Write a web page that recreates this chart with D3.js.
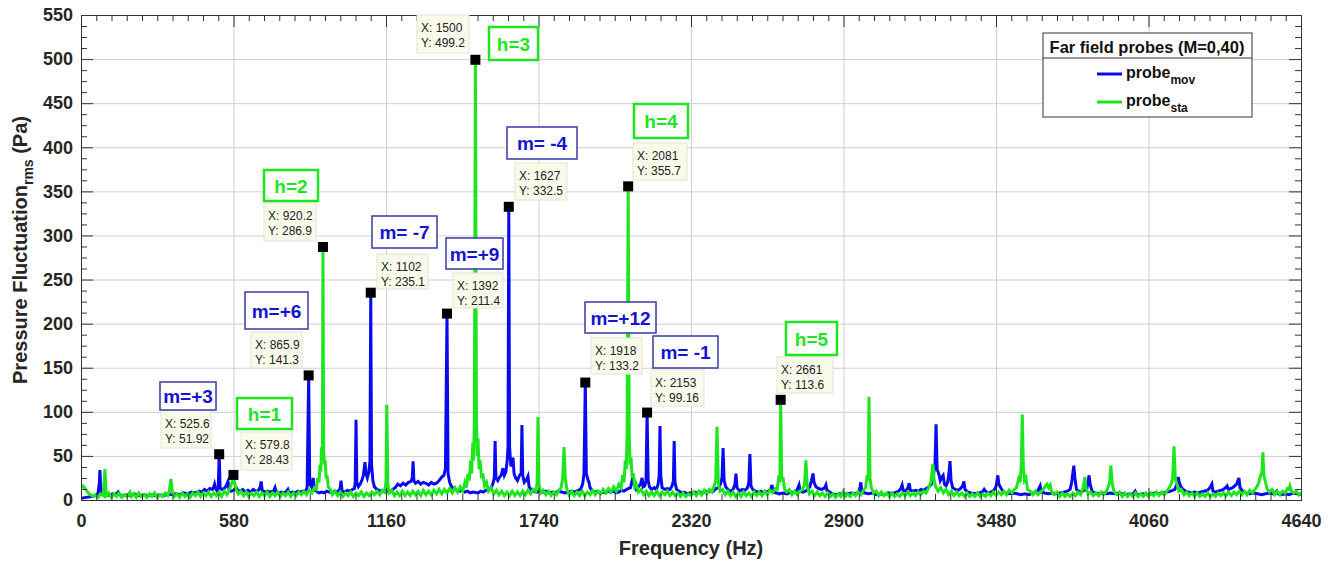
<!DOCTYPE html>
<html lang="en">
<head>
<meta charset="UTF-8">
<title>Far field probes spectrum</title>
<script src="https://cdnjs.cloudflare.com/ajax/libs/d3/7.8.5/d3.min.js"></script>
<style>
  body { margin: 0; background: #fff; }
  svg text { font-family: "Liberation Sans", Arial, Helvetica, sans-serif; }
</style>
</head>
<body>
<div id="chart"></div>
<script>
// ---- data ----
var xTicks = [0, 580, 1160, 1740, 2320, 2900, 3480, 4060, 4640];
var yTicks = [0, 50, 100, 150, 200, 250, 300, 350, 400, 450, 500, 550];

// probe_mov (blue), rows of [Hz, Pa]
var movSpectrum = [[0,2],[20,3],[40,4],[55,5],[65,8],[70,20],[72,34],[74,20],[78,7],[90,5],[100,6],[110,5],[120,7],[130,6],[138,8],[141,9],[146,6],[160,5],[175,6],[190,5],[200,7],[210,6],[225,5],[240,6],[255,5],[270,6],[285,5],[300,6],[315,5],[330,7],[345,6],[360,7],[375,6],[390,8],[405,7],[420,9],[435,8],[450,10],[460,9],[470,12],[480,10],[490,13],[500,12],[505,15],[508,18],[512,13],[518,10],[522,14],[525.6,51.92],[529,14],[535,12],[545,13],[552,16],[559,21],[563,12],[570,10],[580,11],[590,14],[596,11],[605,10],[615,12],[625,9],[635,11],[645,9],[655,12],[665,10],[675,11],[682,15],[685,21],[689,11],[700,9],[710,10],[720,9],[732,10],[738,14],[742,9],[752,8],[762,9],[772,8],[782,10],[787,12],[792,8],[805,9],[815,8],[825,10],[835,9],[845,10],[855,11],[860,14],[865.9,141.3],[870,18],[876,15],[880,20],[883,25],[887,12],[895,10],[905,8],[915,9],[925,8],[935,10],[945,9],[955,8],[965,10],[975,9],[985,12],[989,22],[993,10],[1003,9],[1013,11],[1023,10],[1033,12],[1040,13],[1043,20],[1046,91],[1049,20],[1055,15],[1062,18],[1068,22],[1074,28],[1080,43],[1084,30],[1089,25],[1095,32],[1099,45],[1102,235.1],[1105,40],[1110,22],[1116,15],[1125,12],[1135,11],[1145,10],[1155,9],[1165,10],[1175,9],[1185,12],[1195,14],[1205,18],[1215,16],[1225,19],[1235,17],[1245,20],[1255,21],[1260,25],[1263,44],[1266,22],[1272,19],[1282,21],[1292,18],[1302,20],[1312,19],[1322,17],[1332,20],[1342,18],[1352,19],[1362,22],[1372,26],[1380,28],[1386,35],[1392,211.4],[1396,30],[1402,20],[1410,15],[1420,12],[1430,11],[1440,10],[1450,11],[1460,9],[1470,10],[1480,8],[1490,9],[1510,8],[1520,10],[1530,9],[1540,11],[1550,12],[1560,14],[1566,18],[1572,25],[1575,67],[1578,25],[1585,22],[1592,26],[1598,28],[1602,33],[1605,36],[1610,28],[1616,32],[1621,45],[1624,60],[1627,332.5],[1630,60],[1635,38],[1640,42],[1643,48],[1647,30],[1653,25],[1660,22],[1668,28],[1674,30],[1677,85],[1680,28],[1686,20],[1692,22],[1697,25],[1700,27],[1704,15],[1712,12],[1722,10],[1732,9],[1745,10],[1755,9],[1768,10],[1780,8],[1792,9],[1805,8],[1815,10],[1828,9],[1840,8],[1852,9],[1865,10],[1878,9],[1890,11],[1900,12],[1908,18],[1913,30],[1918,133.2],[1922,30],[1927,24],[1932,20],[1936,14],[1945,10],[1955,9],[1965,10],[1975,8],[1985,9],[1995,8],[2005,10],[2015,9],[2025,10],[2035,8],[2045,9],[2055,11],[2065,10],[2075,12],[2090,14],[2096,22],[2100,30],[2104,18],[2112,12],[2120,15],[2128,18],[2134,25],[2138,15],[2144,16],[2149,22],[2153,99.16],[2157,22],[2162,15],[2170,12],[2180,14],[2188,12],[2195,18],[2199,28],[2202,84],[2205,28],[2210,14],[2220,12],[2230,13],[2240,12],[2248,16],[2253,22],[2256,67],[2259,20],[2265,12],[2275,10],[2285,8],[2295,9],[2305,7],[2315,8],[2325,7],[2335,9],[2345,8],[2355,9],[2365,8],[2375,10],[2385,9],[2395,11],[2405,10],[2415,13],[2425,14],[2432,18],[2438,25],[2442,59],[2446,22],[2452,15],[2460,12],[2470,10],[2480,12],[2487,18],[2491,30],[2495,14],[2505,10],[2515,12],[2525,11],[2535,14],[2540,20],[2544,52],[2548,16],[2555,12],[2565,10],[2575,9],[2585,10],[2595,8],[2605,9],[2615,10],[2624,13],[2628,17],[2632,9],[2645,8],[2655,7],[2670,8],[2685,7],[2700,9],[2710,8],[2720,10],[2727,14],[2731,17],[2735,10],[2745,9],[2755,10],[2765,12],[2772,15],[2778,22],[2784,30],[2788,20],[2795,15],[2805,13],[2815,12],[2825,13],[2830,15],[2833,17],[2837,11],[2847,9],[2857,7],[2870,6],[2885,7],[2900,6],[2915,7],[2930,8],[2945,7],[2958,9],[2963,15],[2966,20],[2970,9],[2982,8],[2995,7],[3010,8],[3025,6],[3040,7],[3055,6],[3070,8],[3085,7],[3100,9],[3110,10],[3118,13],[3123,17],[3127,11],[3137,10],[3145,14],[3150,19],[3154,11],[3165,10],[3175,11],[3185,10],[3195,12],[3205,11],[3215,13],[3225,15],[3235,18],[3242,28],[3248,40],[3252,86],[3256,35],[3262,30],[3268,22],[3274,26],[3279,28],[3284,18],[3290,16],[3296,20],[3301,30],[3305,44],[3309,22],[3315,14],[3325,12],[3335,11],[3345,13],[3353,16],[3358,21],[3362,12],[3372,9],[3385,8],[3400,7],[3415,8],[3428,9],[3435,12],[3440,10],[3450,8],[3462,9],[3472,11],[3480,15],[3484,22],[3487,28],[3491,18],[3498,14],[3506,10],[3516,8],[3530,7],[3545,8],[3560,7],[3575,6],[3590,7],[3605,6],[3620,8],[3635,9],[3643,13],[3648,16],[3652,9],[3665,8],[3680,7],[3695,8],[3710,7],[3725,8],[3740,9],[3752,10],[3762,12],[3768,20],[3772,30],[3776,39],[3780,25],[3786,12],[3795,10],[3805,9],[3815,11],[3825,12],[3830,20],[3834,28],[3838,18],[3845,10],[3855,8],[3870,7],[3885,8],[3900,7],[3915,8],[3930,7],[3945,8],[3960,7],[3975,6],[3990,7],[4000,6],[4006,9],[4009,10],[4013,7],[4025,6],[4040,7],[4055,6],[4070,7],[4085,8],[4100,7],[4115,8],[4130,9],[4145,10],[4160,12],[4168,18],[4173,26],[4177,20],[4183,15],[4192,12],[4202,10],[4212,9],[4222,8],[4235,9],[4248,8],[4260,9],[4272,10],[4284,11],[4294,14],[4301,18],[4305,10],[4315,9],[4325,10],[4335,11],[4345,12],[4353,14],[4359,16],[4364,12],[4372,13],[4380,14],[4388,16],[4395,18],[4400,22],[4404,25],[4408,14],[4418,10],[4430,8],[4445,7],[4460,8],[4475,7],[4490,6],[4505,7],[4520,8],[4535,7],[4545,9],[4548,10],[4552,7],[4565,6],[4580,7],[4595,6],[4610,8],[4625,7],[4640,6]];

// probe_sta (green), rows of [Hz, Pa]
var staSpectrum = [[0,14],[8,16],[16,13],[25,9],[35,6],[45,4],[55,6],[65,3],[75,7],[85,5],[91,35],[96,5],[105,8],[115,3],[125,7],[135,4],[145,8],[155,3],[165,6],[175,4],[186,9],[192,4],[200,7],[210,3],[220,8],[230,4],[240,6],[250,3],[260,7],[270,4],[280,8],[290,3],[300,6],[310,4],[320,8],[330,5],[336,10],[342,24],[348,8],[355,4],[365,7],[375,3],[385,8],[395,4],[405,7],[415,3],[425,8],[435,5],[445,9],[455,4],[465,8],[475,5],[485,9],[495,4],[505,8],[515,5],[525,9],[535,4],[545,10],[555,6],[565,12],[572,18],[576,22],[579.8,28.43],[584,20],[590,12],[598,7],[608,10],[618,5],[628,9],[638,4],[648,8],[658,5],[668,9],[678,4],[688,8],[698,5],[708,9],[718,4],[728,8],[738,5],[748,9],[758,4],[768,8],[778,5],[788,9],[798,4],[808,8],[818,5],[828,9],[838,6],[848,10],[858,6],[868,11],[878,8],[888,14],[895,12],[900,25],[905,20],[909,40],[912,32],[915,60],[918,45],[920.2,286.9],[923,55],[926,40],[929,45],[932,25],[936,28],[940,15],[948,12],[956,6],[966,10],[976,5],[986,9],[996,4],[1006,8],[1016,5],[1026,9],[1036,4],[1046,8],[1056,5],[1066,9],[1076,4],[1086,8],[1096,5],[1106,9],[1116,6],[1126,10],[1136,6],[1146,11],[1155,9],[1160,20],[1163,108],[1167,18],[1172,8],[1182,11],[1192,5],[1202,9],[1212,5],[1222,10],[1232,5],[1242,9],[1252,5],[1262,10],[1272,6],[1282,10],[1292,5],[1302,11],[1312,6],[1322,10],[1332,6],[1342,11],[1352,7],[1362,12],[1372,7],[1382,12],[1392,8],[1402,13],[1412,8],[1422,14],[1432,9],[1442,15],[1452,10],[1460,20],[1466,14],[1472,30],[1477,22],[1482,45],[1486,30],[1490,65],[1493,45],[1496,90],[1500,499.2],[1504,90],[1507,50],[1510,70],[1514,35],[1518,45],[1523,25],[1528,30],[1535,16],[1542,20],[1550,10],[1560,14],[1570,7],[1580,11],[1590,6],[1600,10],[1610,5],[1620,9],[1630,5],[1640,10],[1650,5],[1660,9],[1670,5],[1680,10],[1690,6],[1700,11],[1710,7],[1720,12],[1730,10],[1735,20],[1738,94],[1742,18],[1748,8],[1758,11],[1768,6],[1778,10],[1788,5],[1798,9],[1808,6],[1818,11],[1826,14],[1832,25],[1837,60],[1842,24],[1848,12],[1856,6],[1866,10],[1876,5],[1886,9],[1896,5],[1906,10],[1916,5],[1926,9],[1936,6],[1946,11],[1956,6],[1966,10],[1976,7],[1986,12],[1996,8],[2006,13],[2016,9],[2026,15],[2036,10],[2046,18],[2054,14],[2060,28],[2065,20],[2070,45],[2074,35],[2077,75],[2081,355.7],[2085,75],[2088,40],[2092,48],[2096,25],[2101,30],[2106,15],[2112,18],[2120,9],[2130,12],[2140,6],[2150,10],[2160,5],[2170,9],[2180,5],[2190,10],[2200,5],[2210,9],[2220,6],[2230,10],[2240,5],[2250,9],[2260,5],[2270,8],[2280,4],[2290,8],[2300,4],[2310,7],[2320,5],[2330,9],[2340,5],[2350,10],[2360,6],[2370,11],[2380,7],[2390,12],[2400,9],[2408,16],[2414,22],[2419,83],[2424,20],[2430,10],[2440,12],[2450,6],[2460,10],[2470,5],[2480,9],[2490,4],[2500,8],[2510,4],[2520,9],[2530,5],[2540,8],[2550,4],[2560,9],[2570,5],[2580,9],[2590,5],[2600,10],[2610,6],[2620,11],[2630,8],[2640,13],[2648,12],[2654,28],[2658,20],[2661,113.6],[2665,22],[2670,26],[2676,12],[2684,9],[2694,12],[2704,6],[2714,10],[2724,6],[2734,10],[2744,12],[2752,18],[2757,45],[2762,16],[2770,7],[2780,10],[2790,5],[2800,9],[2810,5],[2820,8],[2830,4],[2840,8],[2850,4],[2860,7],[2870,3],[2880,7],[2890,4],[2898,9],[2906,4],[2916,7],[2926,4],[2936,8],[2946,5],[2956,9],[2966,6],[2976,11],[2984,14],[2990,28],[2994,22],[2997,117],[3001,24],[3006,14],[3014,8],[3024,10],[3034,5],[3044,9],[3054,5],[3064,8],[3074,4],[3084,8],[3094,4],[3104,7],[3114,4],[3124,8],[3134,5],[3144,9],[3154,5],[3164,8],[3174,5],[3184,9],[3194,6],[3204,10],[3214,8],[3224,14],[3232,20],[3236,30],[3240,41],[3244,24],[3250,15],[3260,10],[3270,14],[3280,8],[3290,12],[3300,6],[3310,10],[3320,5],[3330,9],[3340,5],[3350,8],[3360,4],[3370,8],[3380,4],[3390,7],[3400,4],[3410,8],[3420,4],[3430,7],[3440,4],[3450,8],[3460,5],[3470,9],[3480,5],[3490,9],[3500,6],[3510,10],[3520,6],[3530,11],[3540,8],[3550,12],[3558,14],[3566,24],[3572,20],[3576,40],[3580,97],[3584,38],[3588,22],[3594,25],[3600,12],[3610,10],[3620,6],[3630,10],[3640,6],[3650,9],[3660,12],[3668,16],[3674,18],[3680,14],[3686,17],[3692,9],[3702,6],[3712,9],[3722,4],[3732,8],[3742,4],[3752,7],[3762,4],[3772,8],[3782,5],[3792,9],[3802,6],[3810,12],[3815,20],[3818,26],[3822,14],[3830,7],[3840,9],[3850,5],[3860,8],[3870,5],[3880,9],[3890,6],[3900,10],[3906,14],[3912,20],[3917,39],[3922,18],[3930,9],[3940,6],[3950,9],[3960,4],[3970,8],[3980,4],[3990,7],[4000,4],[4010,8],[4020,4],[4030,7],[4040,4],[4050,8],[4060,4],[4070,8],[4080,5],[4090,9],[4100,5],[4110,9],[4120,6],[4130,10],[4138,14],[4146,18],[4152,25],[4157,61],[4162,24],[4168,18],[4175,10],[4185,12],[4195,6],[4205,9],[4215,5],[4225,8],[4235,4],[4245,8],[4255,4],[4265,7],[4275,4],[4285,8],[4295,4],[4305,7],[4315,4],[4325,8],[4335,5],[4345,8],[4355,5],[4365,9],[4375,5],[4385,9],[4395,6],[4405,10],[4415,6],[4425,10],[4435,6],[4445,11],[4455,8],[4465,12],[4472,15],[4480,20],[4486,28],[4491,30],[4495,54],[4499,28],[4505,20],[4512,12],[4520,9],[4530,12],[4540,6],[4550,10],[4560,6],[4570,10],[4580,8],[4588,13],[4594,12],[4598,16],[4604,10],[4612,8],[4622,10],[4632,6],[4640,8]];

// data tips
var tipSeries = ["mov","sta","sta","mov","mov","mov","sta","mov","sta","mov","mov","sta"];
var tipHz   = [525.6, 579.8, 920.2, 865.9, 1102, 1392, 1500, 1627, 2081, 1918, 2153, 2661];
var tipPa   = [51.92, 28.43, 286.9, 141.3, 235.1, 211.4, 499.2, 332.5, 355.7, 133.2, 99.16, 113.6];
var tipXText = ["525.6","579.8","920.2","865.9","1102","1392","1500","1627","2081","1918","2153","2661"];
var tipYText = ["51.92","28.43","286.9","141.3","235.1","211.4","499.2","332.5","355.7","133.2","99.16","113.6"];
var tipName = ["m=+3","h=1","h=2","m=+6","m= -7","m=+9","h=3","m= -4","h=4","m=+12","m= -1","h=5"];

// layout of the annotation boxes (left, top, right, bottom)
var nameBox = [[160,382,216,410],[237,398,292,429],[264,170,318,201],[245,292,308,329],[372,216,437,248],[446,238,503,269],[489,27,538,60],[507,127,577,159],[634,104,688,138],[585,302,656,333],[653,336,718,368],[786,322,837,355]];
var tipBox = [[161,411,211,448],[241,432,292,470],[264,203,316,241],[251,332,302,368],[377,254,428,289],[453,273,503,308],[417,15,469,53],[515,163,567,200],[633,143,687,180],[591,338,642,374],[651,370,704,406],[777,357,833,393]];

var W = 1335, H = 561;
var margin = {left: 81, right: 1301, top: 15, bottom: 500};
var blue = "#0a0af0", green = "#1ee61e";

var svg = d3.select("#chart").append("svg")
  .attr("width", W).attr("height", H);

var x = d3.scaleLinear().domain([0, 4640]).range([margin.left, margin.right]);
var y = d3.scaleLinear().domain([0, 550]).range([margin.bottom, margin.top]);
var pw = margin.right - margin.left, ph = margin.bottom - margin.top;

var xMinor = d3.range(0, 4641, 58).filter(function(d) { return d % 580 !== 0; });
var yMinor = d3.range(0, 551, 12.5).filter(function(d) { return d % 50 !== 0; });

// grid
var grid = svg.append("g").attr("class", "grid");
grid.append("g").attr("transform", "translate(0," + margin.bottom + ")")
  .call(d3.axisBottom(x).tickValues(xTicks).tickSize(-ph).tickFormat(""));
grid.append("g").attr("transform", "translate(" + margin.left + ",0)")
  .call(d3.axisLeft(y).tickValues(yTicks).tickSize(-pw).tickFormat(""));
grid.selectAll("line").attr("stroke", "#cfcfcf").attr("stroke-width", 1);
grid.selectAll(".domain").remove();

// lines
svg.append("clipPath").attr("id", "clip").append("rect")
  .attr("x", margin.left).attr("y", margin.top).attr("width", pw).attr("height", ph);

var line = d3.line().x(function(d) { return x(d[0]); }).y(function(d) { return y(d[1]); });

var plot = svg.append("g").attr("clip-path", "url(#clip)");
plot.append("path").datum(movSpectrum).attr("d", line)
  .attr("fill", "none").attr("stroke", blue).attr("stroke-width", 3).attr("stroke-linejoin", "miter");
plot.append("path").datum(staSpectrum).attr("d", line)
  .attr("fill", "none").attr("stroke", green).attr("stroke-width", 3).attr("stroke-linejoin", "miter");

// axes (box with inward ticks)
function styleAxis(g) {
  g.selectAll("line").attr("stroke", "#333");
  g.selectAll(".domain").attr("stroke", "#333");
}
var fmt = d3.format("d");
var ax = svg.append("g");
ax.append("g").attr("transform", "translate(0," + margin.bottom + ")")
  .call(d3.axisBottom(x).tickValues(xTicks).tickFormat(fmt).tickSize(-12).tickPadding(14).tickSizeOuter(0))
  .call(styleAxis)
  .selectAll("text").attr("font-size", 18).attr("font-weight", "bold").attr("fill", "#262626");
ax.append("g").attr("transform", "translate(0," + margin.bottom + ")")
  .call(d3.axisBottom(x).tickValues(xMinor).tickSize(-6).tickFormat("").tickSizeOuter(0)).call(styleAxis);
ax.append("g").attr("transform", "translate(0," + margin.top + ")")
  .call(d3.axisTop(x).tickValues(xTicks).tickSize(-12).tickFormat("").tickSizeOuter(0)).call(styleAxis);
ax.append("g").attr("transform", "translate(0," + margin.top + ")")
  .call(d3.axisTop(x).tickValues(xMinor).tickSize(-6).tickFormat("").tickSizeOuter(0)).call(styleAxis);
ax.append("g").attr("transform", "translate(" + margin.left + ",0)")
  .call(d3.axisLeft(y).tickValues(yTicks).tickFormat(fmt).tickSize(-12).tickPadding(8).tickSizeOuter(0))
  .call(styleAxis)
  .selectAll("text").attr("font-size", 18).attr("font-weight", "bold").attr("fill", "#262626");
ax.append("g").attr("transform", "translate(" + margin.left + ",0)")
  .call(d3.axisLeft(y).tickValues(yMinor).tickSize(-6).tickFormat("").tickSizeOuter(0)).call(styleAxis);
ax.append("g").attr("transform", "translate(" + margin.right + ",0)")
  .call(d3.axisRight(y).tickValues(yTicks).tickSize(-12).tickFormat("").tickSizeOuter(0)).call(styleAxis);
ax.append("g").attr("transform", "translate(" + margin.right + ",0)")
  .call(d3.axisRight(y).tickValues(yMinor).tickSize(-6).tickFormat("").tickSizeOuter(0)).call(styleAxis);

// axis titles
svg.append("text").attr("x", (margin.left + margin.right) / 2).attr("y", 555)
  .attr("text-anchor", "middle").attr("font-size", 20).attr("font-weight", "bold").attr("fill", "#262626")
  .text("Frequency (Hz)");
var yt = svg.append("text").attr("transform", "translate(27,250) rotate(-90)")
  .attr("text-anchor", "middle").attr("font-size", 20).attr("font-weight", "bold").attr("fill", "#262626");
yt.append("tspan").text("Pressure Fluctuation");
yt.append("tspan").attr("font-size", 14).attr("dy", 6).text("rms");
yt.append("tspan").attr("dy", -6).text(" (Pa)");

// annotations
var ann = svg.append("g");
tipHz.forEach(function(f, i) {
  var isMov = tipSeries[i] === "mov";
  var nb = nameBox[i], tb = tipBox[i];
  // marker
  ann.append("rect").attr("x", x(f) - 5).attr("y", y(tipPa[i]) - 5)
    .attr("width", 10).attr("height", 10).attr("fill", "#000");
  // data tip
  ann.append("rect").attr("x", tb[0]).attr("y", tb[1])
    .attr("width", tb[2] - tb[0]).attr("height", tb[3] - tb[1])
    .attr("fill", "#fafaeb").attr("stroke", "#e4e4d2").attr("stroke-width", 1);
  ann.append("text").attr("x", tb[0] + 4).attr("y", tb[1] + 17)
    .attr("font-size", 12).attr("fill", "#222").text("X: " + tipXText[i]);
  ann.append("text").attr("x", tb[0] + 4).attr("y", tb[1] + 32)
    .attr("font-size", 12).attr("fill", "#222").text("Y: " + tipYText[i]);
  // name box
  ann.append("rect").attr("x", nb[0]).attr("y", nb[1])
    .attr("width", nb[2] - nb[0]).attr("height", nb[3] - nb[1])
    .attr("fill", "#fff")
    .attr("stroke", isMov ? "#3a3aa8" : green).attr("stroke-width", isMov ? 1.5 : 2.5);
  ann.append("text").attr("x", (nb[0] + nb[2]) / 2).attr("y", (nb[1] + nb[3]) / 2 + 7)
    .attr("text-anchor", "middle").attr("font-size", 19).attr("font-weight", "bold")
    .attr("fill", isMov ? "#1414d2" : green).text(tipName[i]);
});

// legend
var lg = svg.append("g");
lg.append("rect").attr("x", 1043).attr("y", 33).attr("width", 209).attr("height", 84)
  .attr("fill", "#fff").attr("stroke", "#333").attr("stroke-width", 1);
lg.append("line").attr("x1", 1043).attr("x2", 1252).attr("y1", 58).attr("y2", 58)
  .attr("stroke", "#333").attr("stroke-width", 1);
lg.append("text").attr("x", 1147).attr("y", 53).attr("text-anchor", "middle")
  .attr("font-size", 16.5).attr("font-weight", "bold").attr("fill", "#111")
  .text("Far field probes (M=0,40)");
[["mov", blue, 74], ["sta", green, 102]].forEach(function(e) {
  lg.append("line").attr("x1", 1097).attr("x2", 1122).attr("y1", e[2]).attr("y2", e[2])
    .attr("stroke", e[1]).attr("stroke-width", 3);
  var t = lg.append("text").attr("x", 1126).attr("y", e[2] + 4)
    .attr("font-size", 16).attr("font-weight", "bold").attr("fill", "#111");
  t.append("tspan").text("probe");
  t.append("tspan").attr("font-size", 12).attr("dy", 6).text(e[0]);
});
</script>
</body>
</html>
